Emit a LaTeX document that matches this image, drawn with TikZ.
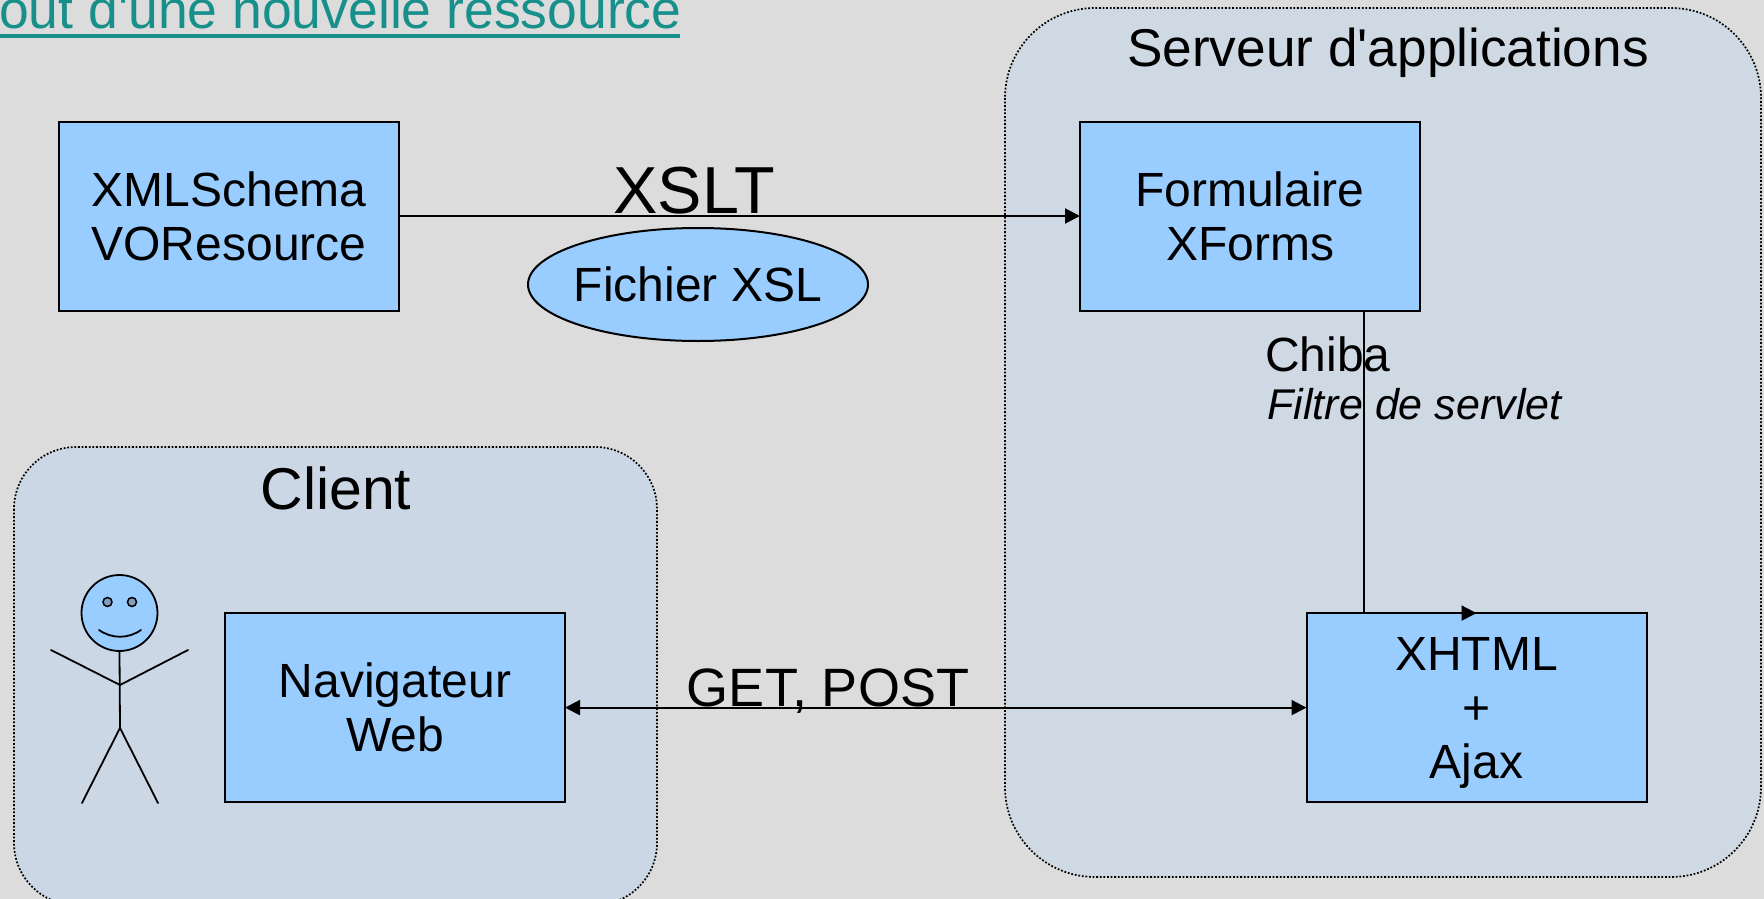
\documentclass[tikz,border=0pt]{standalone}
\usepackage{fontspec}
\setmainfont{Liberation Sans}[Ligatures=TeXOff]
\usetikzlibrary{arrows.meta,shapes.geometric}
\definecolor{pagebg}{HTML}{DCDCDC}
\definecolor{clientbg}{HTML}{CBD7E5}
\definecolor{serverbg}{HTML}{CFD9E3}
\definecolor{boxblue}{HTML}{99CCFF}
\definecolor{eyeblue}{HTML}{7F9FC0}
\definecolor{linkteal}{HTML}{178F8A}
\tikzset{
  panel/.style={draw=black,dash pattern=on 1.8pt off 1.8pt,line width=1.7pt},
  bluebox/.style={draw=black,fill=boxblue,line width=2pt,outer sep=0pt,align=center,inner sep=0pt,font=\fontsize{48}{54}\selectfont},
  lbl/.style={inner sep=0pt,anchor=base},
  conn/.style={line width=2pt,draw=black},
  tip/.style={-{Triangle[length=15pt,width=15pt]}},
  tiptwo/.style={{Triangle[length=15pt,width=15pt]}-{Triangle[length=15pt,width=15pt]}},
  stick/.style={draw=black,line width=1.8pt,line cap=round}
}
\begin{document}
\begin{tikzpicture}[x=1pt,y=-1pt]
\useasboundingbox (0,0) rectangle (1764,899);
\clip (0,0) rectangle (1764,899);
\fill[pagebg] (0,0) rectangle (1764,899);
% title fragment
\node[lbl,anchor=base west,text=linkteal,font=\fontsize{53.5}{53.5}\selectfont] (title) at (-1,28.5) {out d'une nouvelle ressource};
\coordinate (ula) at (-2,36);
\coordinate (ulb) at (680,36);
\draw[linkteal,line width=4pt] (ula) -- (ulb);
% panels
\draw[panel,fill=serverbg,rounded corners=90pt] (1005,8) rectangle (1761,877);
\draw[panel,fill=clientbg,rounded corners=62pt] (14,447) rectangle (657,905);
% boxes
\node[bluebox,minimum width=340pt,minimum height=189pt] (xsd) at (229,216) {XMLSchema\\VOResource};
\node[bluebox,minimum width=340pt,minimum height=189pt] (form) at (1250,216) {Formulaire\\XForms};
\node[bluebox,minimum width=340pt,minimum height=189pt] (nav) at (395,707.6) {Navigateur\\Web};
\node[bluebox,minimum width=340pt,minimum height=189pt] (xhtml) at (1476.5,707.6) {\rule{0pt}{43.4pt}XHTML\\+\\Ajax};
\node[draw=black,fill=boxblue,line width=2pt,outer sep=0pt,shape=ellipse,minimum width=340pt,minimum height=113pt,inner sep=0pt,font=\fontsize{48}{48}\selectfont] (xsl) at (698,284.5) {\makebox[0pt]{Fichier XSL}};
% labels
\node[lbl,font=\fontsize{66.5}{66.5}\selectfont] (xslt) at (694,213) {XSLT};
\node[lbl,font=\fontsize{53.2}{53.2}\selectfont] (srv) at (1388,66.6) {Serveur d'applications};
\node[lbl,font=\fontsize{59}{59}\selectfont] (cli) at (336,509) {Client};
\node[lbl,font=\fontsize{48}{48}\selectfont] (chiba) at (1328,371) {Chiba};
\node[lbl,font=\fontsize{43}{43}\selectfont\itshape] (filtre) at (1414.5,419) {Filtre de servlet};
\node[lbl,font=\fontsize{54}{54}\selectfont] (get) at (828,706) {GET, POST};
% connectors
\draw[conn,tip] (xsd.east) -- (form.west);
\coordinate (drop) at (1364,310);
\draw[conn,tip] (drop) |- (xhtml.north);
\draw[conn,tiptwo] (nav.east) -- (xhtml.west);
% stick figure
\node[circle,draw=black,fill=boxblue,line width=1.8pt,minimum size=76pt,inner sep=0pt] (head) at (119.5,613) {};
\node[circle,draw=black,fill=eyeblue,line width=1.5pt,minimum size=9pt,inner sep=0pt] (eyel) at (107.5,602) {};
\node[circle,draw=black,fill=eyeblue,line width=1.5pt,minimum size=9pt,inner sep=0pt] (eyer) at (132,602) {};
\draw[stick] (99,630) .. controls (112,639) and (128,639) .. (141,630);
\coordinate (hip) at (120,728);
\coordinate (shoulder) at (120,685);
\draw[stick] (head.south) -- (hip);
\draw[stick] (51,650) -- (shoulder) -- (188,650);
\draw[stick] (82,803) -- (hip) -- (158,803);
\end{tikzpicture}
\end{document}
